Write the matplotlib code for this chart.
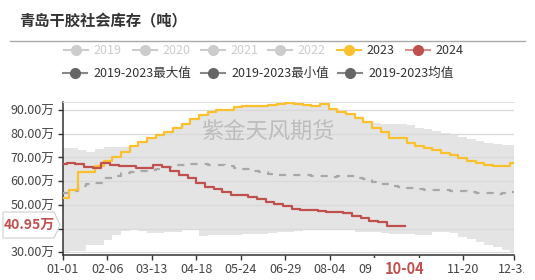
import matplotlib
matplotlib.use("Agg")
import matplotlib.pyplot as plt
import numpy as np
from matplotlib.lines import Line2D
from matplotlib.patches import Polygon, Rectangle
from matplotlib.transforms import Bbox, TransformedBbox

plt.rcParams['font.family'] = ['Noto Sans CJK SC', 'DejaVu Sans']

# ---------------- data ----------------
title = "青岛干胶社会库存（吨）"
tick_days = [0, 36, 72, 108, 144, 180, 216, 252, 288, 324, 365]
tick_labels = ['01-01', '02-06', '03-13', '04-18', '05-24', '06-29',
               '08-04', '09-09', '', '11-20', '12-31']
y_ticks = [30, 40, 50, 60, 70, 80, 90]

# weekly step starts (day of year) for 2023 / 2019-2023 statistics
days_a = [0] + list(range(5, 366, 7))
# weekly step starts for 2024
days_b = [0] + list(range(3, 270, 7))
last_day_2024 = 277
last_value_2024 = 40.95

s2023 = [53.0, 56.3, 64.0, 64.0, 66.5, 68.5, 70.2, 72.4, 75.0, 76.6,
         78.0, 79.5, 80.9, 82.5, 84.0, 86.2, 87.9, 89.3, 90.0, 90.2,
         91.3, 91.5, 91.6, 91.8, 92.3, 92.4, 93.0, 92.5, 92.0, 91.8,
         92.4, 90.4, 89.3, 88.2, 86.5, 84.8, 82.5, 80.6, 78.0, 78.0,
         76.0, 75.0, 74.1, 73.1, 72.0, 71.0, 69.9, 68.5, 67.7, 66.8,
         66.4, 66.4, 67.5]

s2024 = [67.2, 67.6, 67.1, 66.0, 65.7, 67.5, 66.8, 66.5, 66.5, 65.4,
         65.7, 66.8, 66.1, 64.3, 62.6, 61.2, 59.1, 57.7, 56.7, 55.6,
         54.2, 54.2, 53.4, 52.5, 51.3, 50.4, 49.7, 48.2, 47.8, 47.8,
         47.6, 47.1, 47.1, 46.4, 45.4, 44.3, 43.2, 42.6, 41.2, 40.95]

s_mean = [54.9, 56.0, 58.0, 58.8, 59.3, 61.3, 62.2, 63.3, 64.0, 64.4,
          64.7, 65.2, 66.1, 66.8, 66.8, 67.4, 67.1, 66.9, 66.6, 66.2,
          65.6, 65.2, 64.4, 63.8, 63.2, 62.8, 62.4, 62.5, 62.5, 62.3,
          62.1, 61.9, 62.1, 62.2, 61.4, 61.0, 59.6, 59.0, 58.0, 57.5,
          57.2, 56.5, 56.3, 56.3, 56.1, 56.0, 55.7, 55.5, 55.0, 54.8,
          54.7, 54.9, 55.6]

s_max = [74.1, 74.0, 73.3, 72.5, 73.6, 74.5, 74.5, 74.5, 75.0, 76.6,
         78.0, 79.5, 80.9, 82.5, 84.0, 86.2, 87.9, 89.3, 90.0, 90.2,
         91.3, 91.5, 91.6, 91.8, 92.3, 92.4, 93.0, 92.5, 92.0, 91.8,
         92.4, 90.4, 89.3, 88.2, 86.5, 85.0, 84.5, 84.3, 84.2, 84.0,
         83.5, 82.5, 82.0, 81.2, 80.5, 79.5, 78.8, 77.8, 76.8, 76.0,
         75.5, 75.3, 75.3]

s_min = [30.0, 30.6, 30.6, 33.1, 33.1, 35.2, 37.3, 39.0, 39.4, 39.0,
         38.0, 38.2, 38.7, 38.7, 39.4, 39.4, 37.0, 37.3, 37.3, 37.3,
         37.3, 37.6, 37.6, 37.8, 38.2, 38.7, 38.7, 39.0, 39.4, 39.4,
         39.4, 39.4, 39.4, 39.2, 38.7, 38.7, 38.7, 38.3, 37.8, 37.6,
         37.8, 37.3, 37.3, 38.5, 38.7, 38.0, 36.6, 35.8, 34.5, 33.1,
         32.2, 31.0, 30.3]

legend_row1 = ['2019', '2020', '2021', '2022', '2023', '2024']
legend_row2 = ['2019-2023最大值', '2019-2023最小值', '2019-2023均值']
watermark = "紫金天风期货"
pointer_x_label = "10-04"
pointer_y_label = "40.95万"

# ---------------- figure ----------------
W, H = 535, 280
fig = plt.figure(figsize=(W / 100, H / 100), dpi=100)
fig.patch.set_facecolor('white')


def fx(x):
    return x / W


def fy(y):
    return 1 - y / H


ax = fig.add_axes([fx(63), fy(255), fx(514) - fx(63), fy(101.7) - fy(255)])
ax.set_xlim(0, 365)
ax.set_ylim(28.86, 93.5)

xa = np.array(days_a + [365])
xb = np.array(days_b + [last_day_2024])

ya_max = np.array(s_max + [s_max[-1]])
ya_min = np.array(s_min + [s_min[-1]])
ax.fill_between(xa, ya_min, ya_max, step='post', color='#e4e4e4',
                linewidth=0, zorder=1)

for v in y_ticks:
    ax.axhline(v, color='#d9d9d9', linewidth=0.9, zorder=1.5)

ax.plot(xa, s_mean + [s_mean[-1]], drawstyle='steps-post', color='#a8a8a8',
        linewidth=1.6, dashes=(3.2, 3.2), zorder=3)
ax.plot(xa, s2023 + [s2023[-1]], drawstyle='steps-post', color='#fbc02d',
        linewidth=1.6, zorder=4)
ax.plot(xb, s2024 + [last_value_2024], drawstyle='steps-post', color='#c0504d',
        linewidth=1.6, zorder=5)

ax.text(0.455, 1 - (132 - 101.7) / (255 - 101.7), watermark,
        transform=ax.transAxes, ha='center', va='center', fontsize=16,
        color='#bdbdbd', zorder=2)

ax.set_xticks(tick_days)
ax.set_xticklabels(tick_labels)
ax.set_yticks(y_ticks)
ax.set_yticklabels([f"{v:.2f}万" for v in y_ticks])
ax.tick_params(axis='both', labelsize=9, colors='#333333', length=3.6,
               width=1, direction='out')
ax.tick_params(axis='x', pad=2.5)
ax.tick_params(axis='y', pad=2.5)
for lab in ax.get_xticklabels() + ax.get_yticklabels():
    lab.set_color('#444444')
# the chart container ends at about x=524 px: the last label is cut there
clip = TransformedBbox(Bbox([[0, 0], [fx(524), 1]]), fig.transFigure)
last_lab = ax.get_xticklabels()[-1]
last_lab.set_clip_box(clip)
last_lab.set_clip_on(True)

ax.spines['right'].set_visible(False)
ax.spines['top'].set_color('#e0e0e0')
ax.spines['left'].set_color('#333333')
ax.spines['bottom'].set_color('#333333')
ax.spines['left'].set_linewidth(1.1)
ax.spines['bottom'].set_linewidth(1.1)

# title and separator
fig.text(fx(19), fy(21), title, fontsize=11, fontweight='bold',
         color='#333333', ha='left', va='center')
fig.add_artist(Line2D([fx(10), fx(525)], [fy(40.7), fy(40.7)],
                      color='#aaaaaa', linewidth=1))

# legend
row1_cx = [76, 145, 213, 280, 349, 418]
row1_line = ['#cccccc', '#cccccc', '#cccccc', '#cccccc', '#fbc02d', '#d98f8d']
row1_mark = ['#cccccc', '#cccccc', '#cccccc', '#cccccc', '#fbc02d', '#c0504d']
row1_text = ['#cccccc', '#cccccc', '#cccccc', '#cccccc', '#333333', '#333333']
for name, cx, lc, mc, tc in zip(legend_row1, row1_cx, row1_line, row1_mark, row1_text):
    fig.add_artist(Line2D([fx(cx - 12), fx(cx + 12)], [fy(50), fy(50)],
                          color=lc, linewidth=1.5))
    fig.add_artist(Line2D([fx(cx)], [fy(50)], marker='o', markersize=7,
                          color=mc, linewidth=0))
    fig.text(fx(cx + 17), fy(50), name, fontsize=9, color=tc,
             ha='left', va='center')

row2_cx = [75, 213, 350]
for name, cx in zip(legend_row2, row2_cx):
    fig.add_artist(Line2D([fx(cx - 12), fx(cx + 12)], [fy(73), fy(73)],
                          color='#888888', linewidth=1.5))
    fig.add_artist(Line2D([fx(cx)], [fy(73)], marker='o', markersize=7,
                          color='#666666', linewidth=0))
    fig.text(fx(cx + 18), fy(73), name, fontsize=9, color='#333333',
             ha='left', va='center')

# axis pointer labels
fig.add_artist(Rectangle((fx(372), fy(280)), fx(437) - fx(372), fy(258) - fy(280),
                         facecolor='white', edgecolor='none', zorder=5))
fig.text(fx(405), fy(268.5), pointer_x_label, fontsize=10.5, fontweight='bold',
         color='#c0504d', ha='center', va='center', zorder=6)

tag = Polygon([(fx(3), fy(212)), (fx(54), fy(212)), (fx(60), fy(225)),
               (fx(54), fy(238)), (fx(3), fy(238))], closed=True,
              facecolor='white', edgecolor='#cfcfcf', linewidth=0.8,
              transform=fig.transFigure, zorder=5)
fig.add_artist(tag)
fig.text(fx(29), fy(225), pointer_y_label, fontsize=10, fontweight='bold',
         color='#c0504d', ha='center', va='center', zorder=6)

fig.savefig('out.png', dpi=100)
